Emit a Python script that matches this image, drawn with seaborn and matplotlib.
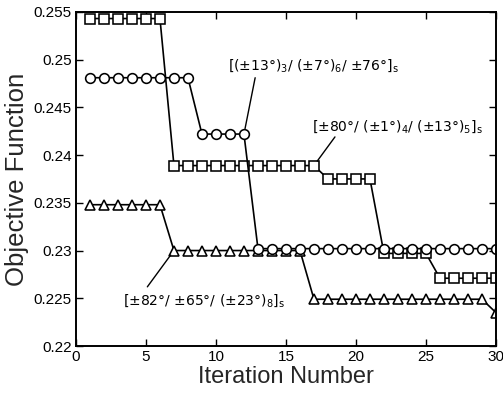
import numpy as np
import pandas as pd
import matplotlib
matplotlib.use("Agg")
import matplotlib.pyplot as plt
import seaborn as sns

# Objective function history of the three laminate designs
iterations = list(range(1, 31))

design_a = "[(±13°)3/(±7°)6/±76°]s"   # circles
design_b = "[±80°/(±1°)4/(±13°)5]s"   # squares
design_c = "[±82°/±65°/(±23°)8]s"     # triangles

objective_a = [0.2481] * 8 + [0.2422] * 4 + [0.2302] * 18
objective_b = [0.2543] * 6 + [0.2389] * 11 + [0.2375] * 4 + [0.2297] * 4 + [0.2271] * 5
objective_c = [0.2348] * 6 + [0.2300] * 10 + [0.2249] * 13 + [0.2235]

x_ticks = [0, 5, 10, 15, 20, 25, 30]
y_ticks = [0.22, 0.225, 0.23, 0.235, 0.24, 0.245, 0.25, 0.255]
y_tick_labels = ["0.22", "0.225", "0.23", "0.235", "0.24", "0.245", "0.25", "0.255"]

df = pd.concat([
    pd.DataFrame({"iteration": iterations, "objective": objective_b, "design": design_b}),
    pd.DataFrame({"iteration": iterations, "objective": objective_c, "design": design_c}),
    pd.DataFrame({"iteration": iterations, "objective": objective_a, "design": design_a}),
], ignore_index=True)

sns.set_style("ticks")
plt.rcParams["font.family"] = ["Liberation Sans", "DejaVu Sans"]
plt.rcParams["mathtext.fontset"] = "dejavusans"

fig = plt.figure(figsize=(5.03, 3.95), dpi=100)
ax = fig.add_axes([0.151, 0.124, 0.835, 0.846])

sns.lineplot(
    data=df, x="iteration", y="objective", style="design",
    markers={design_a: "o", design_b: "s", design_c: "^"},
    dashes=False, color="black", linewidth=1.2,
    markersize=7, markerfacecolor="white", markeredgecolor="black",
    markeredgewidth=1.15, legend=False, ax=ax,
)

ax.set_xlim(0, 30)
ax.set_ylim(0.22, 0.255)
ax.set_xticks(x_ticks)
ax.set_xticklabels([str(t) for t in x_ticks])
ax.set_yticks(y_ticks)
ax.set_yticklabels(y_tick_labels)
ax.tick_params(direction="in", top=True, right=True, length=5, width=1.0,
               labelsize=11, colors="black", pad=3)
for sp in ax.spines.values():
    sp.set_visible(True)
    sp.set_linewidth(1.4)
    sp.set_color("black")

ax.set_xlabel("Iteration Number", fontsize=17, labelpad=1)
ax.set_ylabel("Objective Function", fontsize=18.5, labelpad=3)

# Design labels with leader lines to their curves
ann_font = dict(fontsize=10, family=["DejaVu Sans"], color="black",
                ha="left", va="center")
leader = dict(arrowstyle="-", color="black", lw=1.0, shrinkA=0, shrinkB=4)

ax.text(10.85, 0.24935, "[(±13°)$_3$/ (±7°)$_6$/ ±76°]$_\\mathrm{s}$", **ann_font)
ax.annotate("", xy=(12, 0.2422), xytext=(12.8, 0.2481), arrowprops=leader)

ax.text(16.85, 0.24295, "[±80°/ (±1°)$_4$/ (±13°)$_5$]$_\\mathrm{s}$", **ann_font)
ax.annotate("", xy=(17, 0.2389), xytext=(18.5, 0.2419), arrowprops=leader)

ax.text(3.35, 0.2248, "[±82°/ ±65°/ (±23°)$_8$]$_\\mathrm{s}$", **ann_font)
ax.annotate("", xy=(7, 0.2300), xytext=(5.1, 0.2262), arrowprops=leader)

fig.savefig("out.png", dpi=100)
